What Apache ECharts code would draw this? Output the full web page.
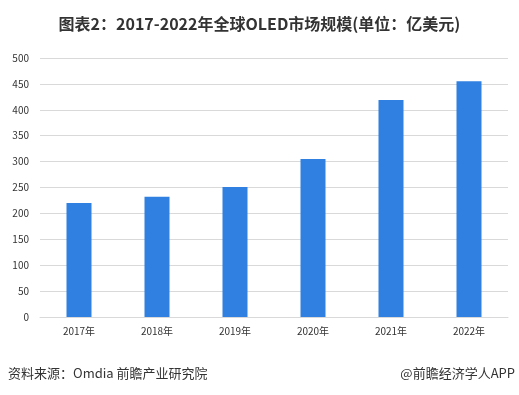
<!DOCTYPE html>
<html><head><meta charset="utf-8">
<script src="https://cdn.jsdelivr.net/npm/echarts@6/dist/echarts.min.js"></script>
<style>html,body{margin:0;padding:0;background:#fff}#c{width:519px;height:395px}</style>
</head><body><div id="c"></div>
<script>
const categories = ['2017年','2018年','2019年','2020年','2021年','2022年'];
const values = [220, 232, 251, 305, 419, 455];
const titleText = '图表2：2017-2022年全球OLED市场规模(单位：亿美元)';
const sourceText = '资料来源：Omdia 前瞻产业研究院';
const creditText = '@前瞻经济学人APP';

const font = '"Microsoft YaHei","Noto Sans CJK SC",sans-serif';
const chart = echarts.init(document.getElementById('c'), null, {renderer:'canvas'});
chart.setOption({
  animation:false,
  backgroundColor:'#fff',
  title:{text:titleText,left:'center',top:11,textStyle:{fontSize:16,fontWeight:'bold',color:'#333',fontFamily:font}},
  grid:{left:40,right:11,top:58,bottom:78},
  xAxis:{type:'category',data:categories,
    axisLine:{lineStyle:{color:'#d9d9d9'}},axisTick:{show:false},
    axisLabel:{color:'#333',fontSize:10,margin:9,fontFamily:font}},
  yAxis:{type:'value',min:0,max:500,interval:50,
    axisLine:{show:false},axisTick:{show:false},
    splitLine:{lineStyle:{color:'#d9d9d9'}},
    axisLabel:{color:'#333',fontSize:10,margin:11,fontFamily:font}},
  series:[{type:'bar',data:values,barWidth:25,itemStyle:{color:'#2F80E1'}}],
  graphic:[
    {type:'text',left:8,top:367,style:{text:sourceText,fill:'#333',fontSize:13,fontFamily:font}},
    {type:'text',right:4,top:367,style:{text:creditText,fill:'#333',fontSize:13,fontFamily:font}}
  ]
});
</script></body></html>
